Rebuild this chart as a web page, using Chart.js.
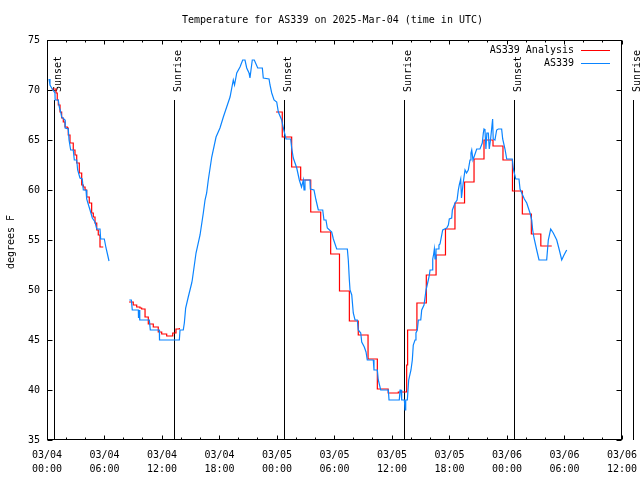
<!DOCTYPE html>
<html>
<head>
<meta charset="utf-8">
<script src="https://cdn.jsdelivr.net/npm/chart.js@4.4.1/dist/chart.umd.min.js"></script>
<style>
  html, body { margin: 0; padding: 0; background: #fff; }
</style>
</head>
<body>
<canvas id="myChart" width="640" height="480"></canvas>
<script>
// hours since 03/04 00:00 UTC, temperature in F
const obsNight = [
  [0.21, 71.1], [0.31, 70.5], [0.55, 70.1], [0.83, 69.7], [0.85, 69], [1.18, 69], [1.28, 68.3],
  [1.43, 67.8], [1.53, 67.3], [1.88, 67], [1.9, 66.2], [2.22, 66.1], [2.3, 65], [2.47, 64],
  [2.74, 64], [2.85, 63], [3.1, 63], [3.2, 62], [3.44, 61.2], [3.68, 61.1], [3.79, 60],
  [4.07, 60], [4.14, 59.1], [4.49, 58], [4.73, 57.2], [5.01, 56.8], [5.19, 56.1], [5.53, 56.1],
  [5.6, 55.1], [5.98, 55.1], [6.16, 54.2], [6.33, 53.5], [6.47, 52.9]
];
const obsMain = [
  [8.59, 49], [8.8, 49], [8.9, 48], [9.53, 48], [9.55, 47.2], [9.6, 48], [9.68, 47], [10.68, 47],
  [10.78, 46], [11.72, 46], [11.74, 45], [13.81, 45], [13.88, 46], [14.22, 46], [14.33, 46.7],
  [14.47, 48.2], [14.74, 49.3], [15.1, 50.7], [15.16, 51], [15.55, 53.7], [15.97, 55.5],
  [16.31, 57.7], [16.49, 59], [16.66, 59.7], [16.83, 61], [17.19, 63.3], [17.64, 65.3],
  [18.05, 66.2], [18.4, 67.3], [18.75, 68.3], [19.1, 69.3], [19.44, 71], [19.57, 70.5],
  [19.8, 71.7], [20.14, 72.3], [20.42, 73], [20.66, 73], [20.84, 72.2], [21.08, 71.7],
  [21.18, 71.2], [21.42, 73], [21.63, 73], [21.99, 72.2], [22.47, 72.2], [22.57, 71.2],
  [23.17, 71.1], [23.27, 70.5], [23.45, 69.7], [23.69, 69], [23.97, 68.8], [24.14, 67.8],
  [24.49, 67], [24.66, 66.2], [24.94, 65.1], [25.43, 65.1], [25.53, 64.2], [25.7, 63.2],
  [26.06, 62.2], [26.33, 61], [26.56, 60.3], [26.75, 61], [26.82, 60], [26.92, 61], [27.44, 61],
  [27.48, 60.1], [27.86, 60], [28.07, 59], [28.31, 58], [28.77, 58], [28.9, 57], [29.11, 57],
  [29.25, 56.2], [29.71, 55.8], [29.88, 55.1], [30.23, 54.1], [31.34, 54.1], [31.44, 53],
  [31.55, 51], [31.62, 50], [31.8, 49.5], [31.96, 47.7], [32.14, 47], [32.38, 47], [32.48, 46],
  [32.74, 45.7], [32.84, 44.8], [33.11, 44.3], [33.29, 43.8], [33.42, 43], [34.05, 43],
  [34.12, 42], [34.47, 42], [34.57, 41], [34.82, 40], [35.62, 40], [35.69, 39], [36.76, 39],
  [36.84, 40], [36.94, 40], [37.01, 39], [37.29, 39], [37.36, 38], [37.43, 39], [37.6, 39],
  [37.74, 41], [37.98, 42], [38.12, 43], [38.22, 44.5], [38.4, 45], [38.5, 45.7], [38.64, 46],
  [38.75, 47], [39.0, 47], [39.1, 48], [39.34, 48.5], [39.55, 50], [39.79, 51], [39.9, 51.5],
  [39.97, 52], [40.21, 52], [40.25, 53.1], [40.35, 53.6], [40.42, 54.1], [40.49, 53.1],
  [40.59, 54.1], [40.83, 54.1], [40.9, 54.5], [41.01, 54.6], [41.29, 56], [41.71, 56.2],
  [41.88, 56.5], [41.98, 57.1], [42.23, 57.2], [42.3, 58], [42.58, 58.7], [42.79, 59],
  [42.92, 60], [43.02, 60.5], [43.17, 61.1], [43.25, 59.2], [43.44, 60.8], [43.62, 62],
  [43.78, 61.7], [43.96, 62], [44.14, 63], [44.24, 63.7], [44.32, 64], [44.45, 63],
  [44.84, 64.1], [45.18, 64.1], [45.42, 64.7], [45.53, 65.7], [45.6, 66.1], [45.7, 66],
  [45.8, 64.1], [45.9, 65.7], [46.05, 65.7], [46.15, 64.1], [46.29, 65.1], [46.5, 67.1],
  [46.56, 65.1], [46.74, 65], [46.92, 66], [47.09, 66.1], [47.44, 66.1], [47.55, 65.1],
  [47.79, 64.1], [47.97, 63.1], [48.55, 63.1], [48.66, 62.1], [48.91, 61.1], [49.25, 61.1],
  [49.36, 60.1], [49.81, 59.1], [50.06, 58.7], [50.4, 57.7], [50.58, 57], [50.68, 56],
  [50.82, 55.2], [51.1, 54], [51.34, 53], [52.14, 53], [52.31, 55], [52.56, 56.1], [52.83, 55.7],
  [53.19, 55], [53.46, 54], [53.71, 53], [53.95, 53.5], [54.23, 54]
];

const anaNight = [
  [0.49, 70.1], [0.94, 69.7], [1.07, 69], [1.18, 68.5], [1.36, 67.8], [1.53, 67.2], [1.7, 66.8],
  [1.88, 66.3], [2.12, 66.2], [2.22, 65.5], [2.4, 64.7], [2.74, 64], [2.92, 63.5], [3.1, 62.7],
  [3.37, 61.7], [3.62, 60.5], [3.79, 60.3], [3.97, 60], [4.14, 59.3], [4.41, 58.7], [4.66, 57.7],
  [4.83, 57.3], [5.01, 56.7], [5.19, 56], [5.35, 55.5], [5.53, 54.3], [5.87, 54.3]
];
const anaMorning = [
  [8.56, 48.8], [9.0, 48.5], [9.36, 48.3], [9.7, 48.2], [9.88, 48.1], [10.23, 47.3], [10.57, 46.6],
  [11.09, 46.3], [11.61, 45.8], [11.97, 45.6], [12.49, 45.4], [12.84, 45.4], [13.12, 45.7],
  [13.46, 46.1], [13.81, 46.2]
];
const anaHourly = [
  [23.9, 67.8], [24.55, 65.3], [25.53, 62.3], [26.47, 61], [27.52, 57.8], [28.56, 55.8],
  [29.6, 53.6], [30.52, 49.9], [31.55, 46.9], [32.48, 45.5], [33.5, 43.1], [34.47, 40.1],
  [35.6, 39.7], [36.66, 39.8], [37.53, 42.5], [37.63, 46], [38.6, 48.7], [39.58, 51.5],
  [40.6, 53.5], [41.58, 56.1], [42.57, 58.7], [43.57, 60.8], [44.56, 63.1], [45.6, 65],
  [46.54, 64.4], [47.58, 63], [48.57, 59.9], [49.6, 57.6], [50.54, 55.6], [51.53, 54.4],
  [52.67, 54.4]
];

const sunHours = [0.76, 13.28, 24.76, 37.28, 48.76, 61.24];
const sunLabels = ["Sunset", "Sunrise", "Sunset", "Sunrise", "Sunset", "Sunrise"];

const tickDates = ["03/04", "03/04", "03/04", "03/04", "03/05", "03/05", "03/05", "03/05", "03/06", "03/06", "03/06"];
const tickTimes = ["00:00", "06:00", "12:00", "18:00", "00:00", "06:00", "12:00", "18:00", "00:00", "06:00", "12:00"];

const FONT = '"DejaVu Sans Mono", "Liberation Mono", monospace';

// join segments with a null point so the line breaks
function joinSegments(segs) {
  const out = [];
  segs.forEach((seg, i) => {
    if (i > 0) {
      const prev = segs[i - 1];
      out.push({ x: (prev[prev.length - 1][0] + seg[0][0]) / 2, y: null });
    }
    seg.forEach(p => out.push({ x: p[0], y: p[1] }));
  });
  return out;
}

const gnuplotLook = {
  id: "gnuplotLook",
  beforeDatasetsDraw(chart) {
    const { ctx } = chart;
    const xs = chart.scales.x, ys = chart.scales.y;
    ctx.save();
    ctx.strokeStyle = "#000";
    ctx.fillStyle = "#000";
    ctx.lineWidth = 1;
    ctx.font = "10px " + FONT;
    sunHours.forEach((h, i) => {
      const px = Math.floor(xs.getPixelForValue(h)) + 0.5;
      ctx.beginPath();
      ctx.moveTo(px, ys.getPixelForValue(69));
      ctx.lineTo(px, ys.bottom);
      ctx.stroke();
      ctx.save();
      ctx.translate(px + 6, ys.getPixelForValue(69.8));
      ctx.rotate(-Math.PI / 2);
      ctx.textAlign = "left";
      ctx.textBaseline = "alphabetic";
      ctx.fillText(sunLabels[i], 0, 0);
      ctx.restore();
    });
    ctx.restore();
  },
  afterDraw(chart) {
    const { ctx, chartArea } = chart;
    const xs = chart.scales.x, ys = chart.scales.y;
    const L = chartArea.left + 0.5, R = chartArea.right - 0.5;
    const T = chartArea.top + 0.5, B = chartArea.bottom - 0.5;
    ctx.save();
    ctx.strokeStyle = "#000";
    ctx.fillStyle = "#000";
    ctx.lineWidth = 1;
    ctx.strokeRect(L, T, R - L, B - T);

    // inward ticks
    ctx.beginPath();
    for (let h = 0; h <= 60; h += 2) {
      const px = Math.floor(xs.getPixelForValue(h)) + 0.5;
      const len = h % 6 === 0 ? 4 : 2;
      ctx.moveTo(px, B); ctx.lineTo(px, B - len);
      ctx.moveTo(px, T); ctx.lineTo(px, T + len);
    }
    for (let v = 35; v <= 75; v += 5) {
      const py = Math.floor(ys.getPixelForValue(v)) + 0.5;
      ctx.moveTo(L, py); ctx.lineTo(L + 5, py);
      ctx.moveTo(R, py); ctx.lineTo(R - 5, py);
    }
    ctx.stroke();

    ctx.font = "10px " + FONT;
    // title
    ctx.textAlign = "center";
    ctx.textBaseline = "middle";
    ctx.fillText("Temperature for AS339 on 2025-Mar-04 (time in UTC)", (chartArea.left + chartArea.right) / 2 - 2, 20);

    // y axis title
    ctx.save();
    ctx.translate(11, (chartArea.top + chartArea.bottom) / 2 + 2);
    ctx.rotate(-Math.PI / 2);
    ctx.fillText("degrees F", 0, 0);
    ctx.restore();

    // legend, gnuplot style: text then sample line
    chart.data.datasets.forEach((ds, i) => {
      const y = chartArea.top + 10 + i * 13;
      ctx.textAlign = "right";
      ctx.fillStyle = "#000";
      ctx.fillText(ds.label, chartArea.right - 48, y);
      ctx.strokeStyle = ds.borderColor;
      ctx.beginPath();
      ctx.moveTo(chartArea.right - 41, Math.floor(y) + 0.5);
      ctx.lineTo(chartArea.right - 12, Math.floor(y) + 0.5);
      ctx.stroke();
    });
    ctx.restore();
  }
};

const ctx = document.getElementById("myChart");

new Chart(ctx, {
  type: "line",
  data: {
    datasets: [
      {
        label: "AS339 Analysis",
        data: joinSegments([anaNight, anaMorning, anaHourly]),
        borderColor: "#ff0000",
        borderWidth: 1.2,
        pointRadius: 0,
        stepped: "before",
        spanGaps: false,
        order: 1,
      },
      {
        label: "AS339",
        data: joinSegments([obsNight, obsMain]),
        borderColor: "#0a84ff",
        borderWidth: 1.2,
        pointRadius: 0,
        spanGaps: false,
        order: 0,
      },
    ],
  },
  options: {
    responsive: false,
    animation: false,
    devicePixelRatio: 1,
    layout: { padding: { top: 40, right: 18, left: 0, bottom: 0 } },
    plugins: {
      legend: { display: false },
      title: { display: false },
      tooltip: { enabled: false },
    },
    scales: {
      x: {
        type: "linear",
        min: 0,
        max: 60,
        grid: { display: false, drawTicks: false },
        border: { display: false },
        ticks: {
          stepSize: 6,
          autoSkip: false,
          maxRotation: 0,
          padding: 8,
          color: "#000",
          font: { family: FONT, size: 10, lineHeight: 1.4 },
          callback: (v, i) => [tickDates[i], tickTimes[i]],
        },
        afterFit: (s) => { s.height = 40; s.paddingLeft = 0; s.paddingRight = 0; },
      },
      y: {
        min: 35,
        max: 75,
        grid: { display: false, drawTicks: false },
        border: { display: false },
        ticks: {
          stepSize: 5,
          padding: 7,
          color: "#000",
          font: { family: FONT, size: 10 },
        },
        afterFit: (s) => { s.width = 47; s.paddingTop = 0; s.paddingBottom = 0; },
      },
    },
  },
  plugins: [gnuplotLook],
});
</script>
</body>
</html>
